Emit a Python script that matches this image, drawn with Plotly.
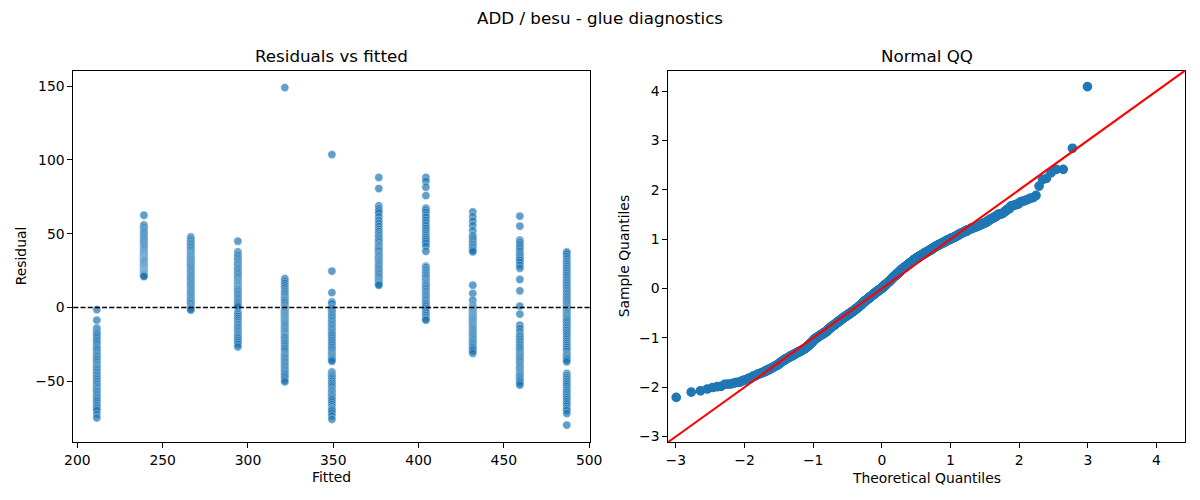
import math
from statistics import NormalDist
import plotly.graph_objects as go

# ---------------- data ----------------
fitted_levels = [211.4, 239.0, 266.5, 294.1, 321.6, 349.2, 376.7, 404.3, 431.8, 459.4, 486.9]

res_g01 = [-1.4, -8.6, -13.9, -15.0, -16.2, -17.0, -17.8, -18.6,
           -19.8, -21.0, -22.3, -23.5, -24.8, -26.0, -27.2, -28.0, -29.1, -30.5,
           -31.6, -32.5, -33.4, -34.4, -35.3, -36.4, -37.5,
           -38.6, -39.6, -40.5, -41.2, -42.0, -43.0, -44.0, -45.0, -46.0, -47.0,
           -48.0, -49.0, -50.2, -51.3, -52.3, -53.4, -54.4,
           -55.3, -56.2, -57.0, -58.0, -59.0, -60.0, -61.0, -62.0, -62.9,
           -64.0, -65.3, -66.5, -67.6, -68.8, -69.9, -72.4, -74.8]
res_g02 = [62.5, 56.0, 55.0, 54.0, 53.0, 52.2, 51.4, 50.6, 49.8,
           49.0, 48.2, 47.4, 46.6, 45.8, 45.0, 44.2, 43.5,
           42.6, 41.9, 41.2, 40.5, 39.8, 39.1, 38.4, 37.8, 37.2,
           36.6, 36.1, 35.6, 35.1, 34.6, 34.1, 33.6, 33.1, 32.7, 32.3, 32.0,
           31.5, 30.9, 30.3, 29.7, 29.1, 28.5, 27.9, 27.3, 26.8, 26.3,
           25.8, 25.3, 24.9, 24.4, 24.0, 23.6, 23.2, 22.8, 22.4, 22.0, 21.5, 21.0]
res_g03 = [47.8, 46.6, 45.5, 44.4, 43.4,
           42.5, 41.5, 40.5, 39.5, 38.5, 37.5,
           36.6, 36.0, 35.3, 34.6, 34.0, 33.3, 32.7, 32.1,
           31.4, 30.7, 30.0, 29.3, 28.6, 27.9, 27.2, 26.5,
           25.6, 24.8, 24.0, 23.2, 22.4, 21.6, 20.8, 20.0, 19.2,
           18.4, 17.6, 16.8, 16.0, 15.2, 14.4, 13.6, 12.8, 12.0, 11.2, 10.5,
           9.8, 9.0, 8.2, 7.4, 6.6, 5.8, 5.0, 4.2, 3.4, 2.6, 1.6,
           0.6, -0.2, -1.0, -1.8]
res_g04 = [44.9, 37.7, 36.2, 35.2, 34.2, 33.2, 32.2,
           31.2, 30.3, 29.5, 28.7, 27.9, 27.1, 26.3,
           25.5, 24.6, 23.7, 22.8, 21.9, 21.0, 20.1, 19.2,
           18.3, 17.6, 16.9, 16.2, 15.5, 14.8, 14.1, 13.4, 12.9, 12.4, 11.8, 11.1, 10.4,
           9.6, 8.7, 7.8, 6.9, 6.0, 5.1, 4.2, 3.3, 2.4, 1.4,
           0.4, -3.0, -4.5, -6.0, -7.5, -9.0, -10.4,
           -11.5, -12.5, -13.5, -14.5, -15.5, -16.5, -17.5, -18.5,
           -19.3, -20.2, -21.2, -22.4, -23.6, -25.0, -26.7]
res_g05 = [149.0, 19.6, 18.0, 16.4, 14.8, 13.3, 11.8, 10.6,
           9.5, 8.5, 7.5, 6.5, 5.7, 5.0, 4.3, 3.4, 2.4, 1.3,
           0.3, -0.4, -1.1, -1.8, -2.5, -3.2, -3.9, -4.6, -5.3, -6.0, -6.7, -7.4, -8.1, -8.8, -9.5, -10.1, -10.7,
           -11.5, -12.3, -13.1, -13.9, -14.7, -15.5, -16.3, -17.1, -17.9, -18.7,
           -19.5, -20.0, -20.5, -21.5, -22.5, -23.5, -24.5, -25.5, -26.6, -27.7, -28.8, -30.0,
           -31.5, -32.3, -33.1, -33.9, -34.7, -35.6, -36.5, -37.4,
           -38.4, -39.3, -40.2, -41.1, -42.0, -42.9, -43.8, -44.7, -45.6, -46.6,
           -47.8, -49.1, -50.4]
res_g06 = [103.6, 24.6, 10.1, 3.8, 2.6,
           0.2, -0.8, -1.8, -2.8, -3.8, -4.8, -5.8, -6.8, -7.8, -8.8, -9.8, -10.7,
           -11.6, -12.5, -13.4, -14.3, -15.2, -16.1, -17.0, -17.9, -18.8,
           -19.9, -21.1, -22.3, -23.5, -24.7, -25.9, -27.1, -28.3, -29.5, -30.7,
           -31.6, -32.4, -33.2, -34.0, -34.8, -35.6, -36.4,
           -43.6, -44.5, -45.3, -46.1, -46.9,
           -47.8, -49.0, -50.2, -51.4, -52.6, -53.8,
           -55.4, -56.3, -57.2, -58.1, -59.0, -59.9, -60.8, -61.7, -62.6,
           -64.0, -65.6, -67.2, -68.5, -69.3, -70.1, -71.5, -73.5, -75.8]
res_g07 = [88.1, 80.6, 68.9, 67.0, 65.5, 64.0, 61.5,
           59.0, 57.0, 55.0, 53.0, 51.5, 50.0,
           48.8, 47.8, 46.8, 45.8, 44.8, 43.8,
           42.6, 41.8, 41.0, 40.2, 39.4, 38.6, 37.8,
           36.6, 35.9, 35.1, 34.3, 33.5, 32.7, 32.0,
           31.3, 30.5, 29.7, 28.9, 28.1, 27.3, 26.5,
           25.6, 24.7, 23.8, 22.9, 22.0, 21.1, 20.2, 19.3,
           18.4, 17.7, 17.0, 16.3, 15.6, 15.1]
res_g08 = [88.1, 85.5, 81.5, 75.8, 67.3, 66.0, 64.5, 62.5, 61.0,
           59.0, 57.2, 55.4, 53.6, 51.8, 50.0,
           48.6, 47.4, 46.2, 45.0, 43.6, 41.5, 38.1, 28.0, 27.0,
           25.8, 24.8, 23.8, 22.8, 21.8, 20.8, 19.8,
           18.6, 17.8, 17.0, 16.2, 15.4, 14.6, 13.8, 12.8, 11.8, 10.8,
           9.8, 8.9, 8.0, 7.1, 6.2, 5.3, 4.4, 3.5, 2.6, 1.7,
           0.5, -0.7, -1.9, -3.1, -4.3, -5.5, -6.7, -7.9, -8.6]
res_g09 = [64.8, 61.5, 58.5, 55.5, 52.0,
           48.8, 47.5, 46.2, 44.9, 43.6,
           42.6, 41.6, 40.6, 39.6, 38.6, 37.7,
           15.1, 9.5, 4.9, 1.6,
           0.4, -0.2, -0.8, -1.4, -2.0, -2.6, -3.2, -3.8, -4.4, -5.0, -5.6, -6.2, -6.8, -7.4, -8.0, -8.7, -9.4, -10.1, -10.8,
           -11.5, -12.2, -12.9, -13.6, -14.3, -15.0, -15.8, -16.6, -17.4, -18.1, -18.8,
           -19.6, -20.4, -21.2, -22.0, -22.8, -23.6, -24.5, -25.4, -26.3, -27.2, -28.2, -29.3, -31.0]
res_g10 = [61.9, 55.1, 45.6, 44.0, 42.5, 41.0, 39.5, 38.0,
           36.5, 35.3, 34.1, 33.0, 32.0, 30.5, 28.5, 26.6,
           19.0, 11.3, 0.9, -4.5, -12.0, -14.3, -16.5, -18.5,
           -19.5, -20.6, -21.7, -22.8, -23.9, -25.0, -26.1, -27.2, -28.3, -29.4, -30.6,
           -31.6, -32.4, -33.2, -34.0, -34.8, -35.6, -36.5, -37.5,
           -38.5, -39.3, -40.1, -40.9, -41.7, -42.5, -43.3, -44.1, -44.9, -45.7, -46.4, -47.0,
           -48.0, -49.0, -50.0, -51.2, -52.6]
res_g11 = [37.7, 37.2, 36.2, 34.5, 32.8,
           31.2, 30.0, 28.8, 27.6, 26.4,
           25.3, 24.1, 22.9, 21.7, 20.5, 19.3,
           18.2, 17.1, 16.0, 14.9, 13.8, 12.7, 11.6, 10.5,
           9.5, 8.5, 7.5, 6.5, 5.5, 4.5, 3.5, 2.5, 1.5,
           0.5, -0.3, -1.1, -1.9, -2.7, -3.5, -4.3, -5.1, -5.9, -6.7, -7.5, -8.3, -9.1, -10.0,
           -11.2, -12.3, -13.4, -14.5, -15.6, -16.8, -18.0,
           -19.3, -20.6, -21.9, -23.2, -24.5, -25.8, -27.1, -28.4, -29.8,
           -31.4, -32.2, -33.0, -33.8, -34.6, -35.5, -36.8,
           -44.7, -46.2, -47.5, -48.7, -49.9, -51.1, -52.3, -53.6,
           -55.2, -56.4, -57.6, -58.8, -60.0, -61.2, -62.4,
           -63.8, -65.3, -66.8, -68.6, -69.8, -71.8, -79.7]

residual_groups = [res_g01, res_g02, res_g03, res_g04, res_g05, res_g06,
                   res_g07, res_g08, res_g09, res_g10, res_g11]

# residual scale used for the QQ sample quantiles (149 -> 4.1)
qq_scale = 36.3

left_xticks = [200, 250, 300, 350, 400, 450, 500]
left_yticks = [-50, 0, 50, 100, 150]
qq_ticks = [-3, -2, -1, 0, 1, 2, 3, 4]
qq_range = [-3.11, 4.415]

# ---------------- derived series ----------------
fit_x, res_y = [], []
for f, grp in zip(fitted_levels, residual_groups):
    for r in grp:
        fit_x.append(f)
        res_y.append(r)

n = len(res_y)
mean_r = sum(res_y) / n
sample_q = sorted((r - mean_r) / qq_scale for r in res_y)
nd = NormalDist()
theo_q = [nd.inv_cdf(i / (n + 1)) for i in range(1, n + 1)]


def padded(lo, hi, frac=0.05):
    span = hi - lo
    return [lo - frac * span, hi + frac * span]


x_range = padded(min(fit_x), max(fit_x))
y_range = padded(min(res_y), max(res_y))

# ---------------- figure ----------------
BLUE = "#1f77b4"
FONT = "DejaVu Sans"

fig = go.Figure()
fig.add_trace(go.Scatter(
    x=fit_x, y=res_y, mode="markers", xaxis="x", yaxis="y",
    marker=dict(size=8.3, color=BLUE, opacity=0.7,
                line=dict(color="white", width=0.5)),
    showlegend=False, hoverinfo="skip"))
fig.add_trace(go.Scatter(
    x=theo_q, y=sample_q, mode="markers", xaxis="x2", yaxis="y2",
    marker=dict(size=8.3, color=BLUE, line=dict(color=BLUE, width=1.4)),
    showlegend=False, hoverinfo="skip"))

axis_common = dict(showline=True, mirror=True, linecolor="black", linewidth=1.1,
                   ticks="outside", ticklen=4.9, tickwidth=1.1, tickcolor="black",
                   showgrid=False, zeroline=False, automargin=False,
                   tickfont=dict(family=FONT, size=13.9, color="black"))

L_DOM = [0.0611, 0.4919]
R_DOM = [0.5569, 0.9875]
Y_DOM = [0.116, 0.8586]

fig.update_layout(
    width=1200, height=500, autosize=False,
    margin=dict(l=0, r=0, t=0, b=0, pad=0),
    paper_bgcolor="white", plot_bgcolor="white",
    font=dict(family=FONT, color="black"),
    xaxis=dict(domain=L_DOM, range=x_range, tickvals=left_xticks, anchor="y", **axis_common),
    yaxis=dict(domain=Y_DOM, range=y_range, tickvals=left_yticks, anchor="x", **axis_common),
    xaxis2=dict(domain=R_DOM, range=qq_range, tickvals=qq_ticks, anchor="y2", **axis_common),
    yaxis2=dict(domain=Y_DOM, range=qq_range, tickvals=qq_ticks, anchor="x2", **axis_common),
    shapes=[
        dict(type="line", xref="x domain", yref="y", x0=0, x1=1, y0=0, y1=0,
             line=dict(color="black", width=1.4, dash="5px,2.2px"), layer="above"),
        dict(type="line", xref="x2 domain", yref="y2 domain", x0=0, x1=1, y0=0, y1=1,
             line=dict(color="red", width=2.1), layer="above"),
    ],
)

def ann(text, x, y, size, angle=0):
    fig.add_annotation(text=text, x=x, y=y, xref="paper", yref="paper",
                       showarrow=False, textangle=angle, xanchor="center", yanchor="middle",
                       font=dict(family=FONT, size=size, color="black"))

lc = (L_DOM[0] + L_DOM[1]) / 2
rc = (R_DOM[0] + R_DOM[1]) / 2
yc = (Y_DOM[0] + Y_DOM[1]) / 2
ann("ADD / besu - glue diagnostics", 0.5, 1 - 18 / 500, 16.7)
ann("Residuals vs fitted", lc, 1 - 56 / 500, 16.7)
ann("Normal QQ", rc, 1 - 56 / 500, 16.7)
ann("Fitted", lc, 1 - 477 / 500, 13.9)
ann("Theoretical Quantiles", rc, 1 - 478 / 500, 13.9)
ann("Residual", 21 / 1200, yc, 13.9, -90)
ann("Sample Quantiles", 624 / 1200, yc, 13.9, -90)

fig.write_html("out.html",
               config={"responsive": False, "displayModeBar": False},
               post_script="document.body.style.margin='0';document.body.style.overflow='hidden';")
